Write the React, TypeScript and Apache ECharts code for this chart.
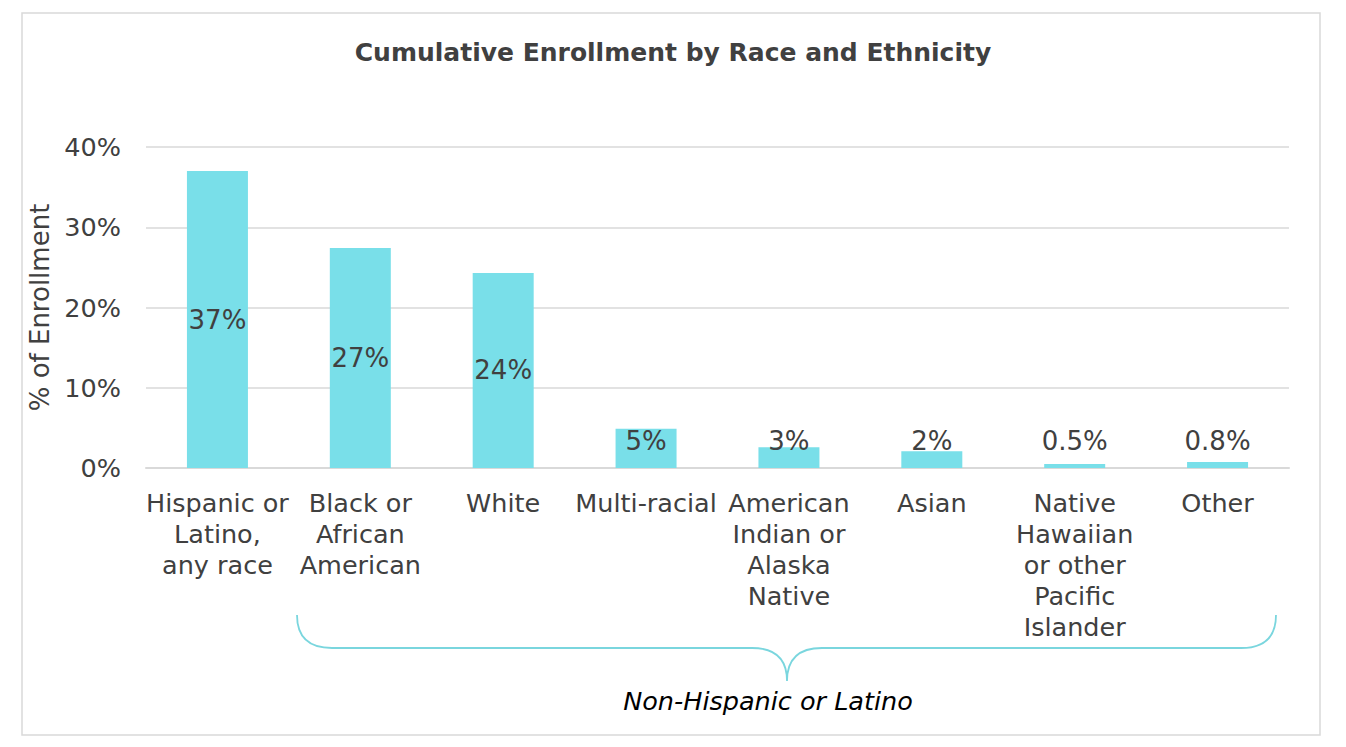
import React, { useEffect, useRef } from "react";
import * as echarts from "echarts";

const categories = [
  "Hispanic or\nLatino,\nany race",
  "Black or\nAfrican\nAmerican",
  "White",
  "Multi-racial",
  "American\nIndian or\nAlaska\nNative",
  "Asian",
  "Native\nHawaiian\nor other\nPacific\nIslander",
  "Other",
];
const values = [37.0, 27.4, 24.3, 4.9, 2.6, 2.1, 0.5, 0.75];
const valueLabels = ["37%", "27%", "24%", "5%", "3%", "2%", "0.5%", "0.8%"];
const yTicks = [0, 10, 20, 30, 40];

const FONT = "DejaVu Sans";
const TEXT = "#404040";
const BAR = "#79dfe9";

const bracePath =
  "M297,615 Q297,648 332,648 L752,648 Q787,648 787,681 Q787,648 822,648 L1241,648 Q1276,648 1276,615";

export default function App() {
  const ref = useRef<HTMLDivElement>(null);
  useEffect(() => {
    if (!ref.current) return;
    try {
      echarts.graphic.registerShape("brace", echarts.graphic.extendPath(bracePath, {}));
    } catch (e) {}
    const chart = echarts.init(ref.current, undefined, { renderer: "svg" });
    chart.setOption({
      animation: false,
      backgroundColor: "#ffffff",
      title: {
        text: "Cumulative Enrollment by Race and Ethnicity",
        left: "center",
        top: 35,
        textStyle: { fontFamily: FONT, fontSize: 25, fontWeight: "bold", color: TEXT },
      },
      grid: { left: 146, right: 57, top: 147, bottom: 279, containLabel: false },
      xAxis: {
        type: "category",
        data: categories,
        axisLine: { lineStyle: { color: "#d9d9d9", width: 2 } },
        axisTick: { show: false },
        axisLabel: {
          interval: 0,
          margin: 19,
          fontFamily: FONT,
          fontSize: 25.5,
          lineHeight: 31,
          color: TEXT,
          align: "center",
        },
      },
      yAxis: {
        type: "value",
        min: yTicks[0],
        max: yTicks[yTicks.length - 1],
        interval: 10,
        name: "% of Enrollment",
        nameLocation: "middle",
        nameGap: 83,
        nameTextStyle: { fontFamily: FONT, fontSize: 26, color: TEXT },
        axisLine: { show: false },
        axisTick: { show: false },
        splitLine: { lineStyle: { color: "#d9d9d9", width: 1.5 } },
        axisLabel: {
          margin: 25,
          fontFamily: FONT,
          fontSize: 25.5,
          color: TEXT,
          formatter: (v: number) => v + "%",
        },
      },
      series: [
        {
          type: "bar",
          barWidth: 61,
          itemStyle: { color: BAR },
          data: values.map((v, i) => ({
            value: v,
            label: {
              show: true,
              position: i < 3 ? "inside" : "insideBottom",
              distance: i < 3 ? 5 : 14,
              formatter: valueLabels[i],
              fontFamily: FONT,
              fontSize: 26,
              color: TEXT,
            },
          })),
        },
      ],
      graphic: [
        {
          type: "rect",
          shape: { x: 22, y: 13, width: 1298, height: 722 },
          style: { fill: "none", stroke: "#d9d9d9", lineWidth: 1.5 },
          silent: true,
        },
        {
          type: "brace",
          x: 0,
          y: 0,
          style: { fill: "none", stroke: "#7ad6de", lineWidth: 1.8 },
          silent: true,
        },
        {
          type: "text",
          x: 768,
          y: 701,
          style: {
            text: "Non-Hispanic or Latino",
            fontFamily: FONT,
            fontSize: 25.5,
            fontStyle: "italic",
            fill: "#000000",
            align: "center",
            verticalAlign: "middle",
          },
        },
      ],
    });
    return () => chart.dispose();
  }, []);
  return (
    <div
      ref={ref}
      style={{ position: "fixed", left: 0, top: 0, width: 1346, height: 747 }}
    />
  );
}
